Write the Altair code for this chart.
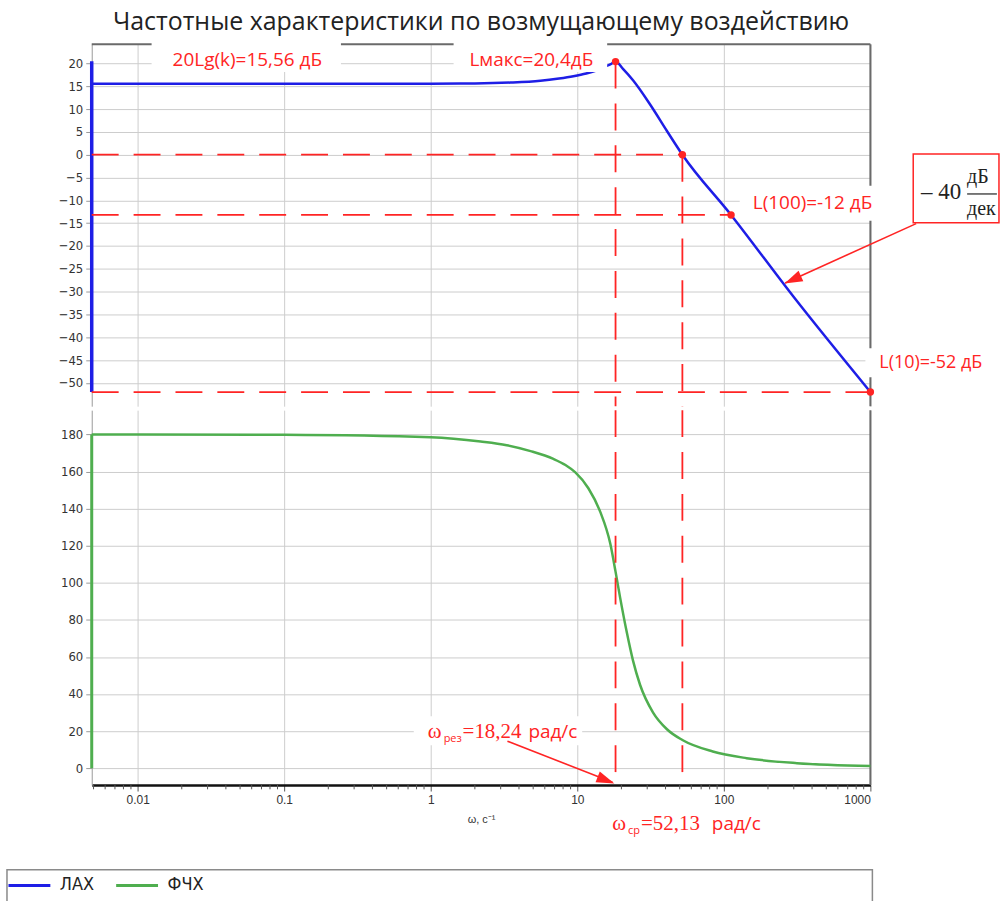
import altair as alt
import pandas as pd

# ---------------- axis ranges / ticks ----------------
W_MIN, W_MAX = 0.00486, 1000.0
L_MIN, L_MAX = -55.1, 24.2
P_MIN, P_MAX = -9.1, 193.1
x_ticks = [0.01, 0.1, 1, 10, 100, 1000]
l_ticks = list(range(-50, 21, 5))
p_ticks = list(range(0, 181, 20))
minor_decades = [0.001, 0.01, 0.1, 1, 10, 100]
minor_mult = [2, 3, 4, 5, 6, 7, 8, 9]

# ---------------- data ----------------
lah_w = [0.00486, 0.01, 0.1, 1, 2, 3.5, 5.6, 7.5, 9.4, 11.5, 13.3, 15.2, 16.8, 18.24, 20.5, 24.0, 31.4, 40.9, 52.13, 112, 300, 1000]
lah_db = [15.56, 15.56, 15.56, 15.56, 15.6, 15.8, 16.2, 16.7, 17.2, 17.8, 18.4, 19.2, 19.8, 20.4, 18.8, 16.3, 11.0, 5.2, 0.0, -13.2, -31.2, -52.0]

fchx_w = [0.00486, 0.01, 0.1, 1, 2.19, 3.3, 4.8, 6.87, 8.3, 9.7, 11.9, 14.3, 16.8, 18.24, 19.6, 21.8, 24.0, 26.8, 32.9, 40.9, 52.13, 84, 143, 315, 1000]
fchx_deg = [180, 180, 179.8, 178.5, 176.2, 174.2, 171.0, 166.8, 163.5, 159.5, 151.0, 138.5, 121.0, 106.0, 92.0, 73.0, 58.0, 45.0, 30.0, 21.0, 15.2, 9.0, 5.4, 2.7, 1.2]

w_res, L_res = 18.24, 20.4
w_cp = 52.13
w_100, L_100 = 112, -13.2
w_end, L_end = 1000, -52.0

series_names = ["ЛАХ", "ФЧХ"]

# ---------------- styles ----------------
BLUE = "#1e1ee6"
GREEN = "#4fae4f"
RED = "#ff2424"
GRID = "#cdcdcd"
FRAME = "#6a6a6a"
SANS = "Open Sans"
SERIF = "Liberation Serif"
COND = "'Liberation Sans Narrow', 'DejaVu Sans Condensed', 'Liberation Sans', sans-serif"
W, H_TOP, H_BOT = 781, 363, 376

xscale = alt.Scale(type="log", domain=[W_MIN, W_MAX], nice=False)
lscale = alt.Scale(domain=[L_MIN, L_MAX], nice=False, zero=False)
pscale = alt.Scale(domain=[P_MIN, P_MAX], nice=False, zero=False)

ax_top_x = alt.Axis(values=x_ticks, labels=False, ticks=False, domain=False, title=None,
                    grid=True, gridColor=GRID)
ax_bot_x = alt.Axis(values=x_ticks, format="~g", title="ω, с⁻¹", grid=True, gridColor=GRID,
                    domainColor="#111111", domainWidth=2.5, tickColor="#555555", tickSize=6,
                    labelPadding=4, labelFontSize=12, titleFontSize=11, titlePadding=8,
                    titleFontWeight="normal", titleColor="#333333", labelColor="#333333",
                    labelFont="Liberation Sans", titleFont="Liberation Sans")
ax_l = alt.Axis(values=l_ticks, title=None, grid=True, gridColor=GRID, domainColor="#9a9a9a",
                tickColor="#9a9a9a", tickSize=6, labelPadding=3, minExtent=40, maxExtent=40,
                labelFontSize=13, labelColor="#333333", labelFont=COND)
ax_p = alt.Axis(values=p_ticks, title=None, grid=True, gridColor=GRID, domainColor="#9a9a9a",
                tickColor="#9a9a9a", tickSize=6, labelPadding=3, minExtent=40, maxExtent=40,
                labelFontSize=13, labelColor="#333333", labelFont=COND)

color_enc = alt.Color("series:N", scale=alt.Scale(domain=series_names, range=[BLUE, GREEN]),
                      legend=alt.Legend(orient="none", legendX=-85, legendY=821, direction="horizontal",
                                        title=None, symbolType="stroke", symbolSize=1764,
                                        symbolStrokeWidth=3, labelFont=COND, labelFontSize=18,
                                        labelColor="#222222", columnPadding=15, labelOffset=8,
                                        padding=0))


def xt(f="w"):
    return alt.X(f"{f}:Q", scale=xscale, axis=ax_top_x)


def xb(f="w"):
    return alt.X(f"{f}:Q", scale=xscale, axis=ax_bot_x)


def yl(f="v"):
    return alt.Y(f"{f}:Q", scale=lscale, axis=ax_l)


def yp(f="v"):
    return alt.Y(f"{f}:Q", scale=pscale, axis=ax_p)


# ================= TOP PANEL (ЛАХ) =================
lah_df = pd.DataFrame({"w": lah_w, "v": lah_db, "series": series_names[0]})

top_border = alt.Chart(pd.DataFrame({"w": [W_MIN], "w2": [W_MAX], "v": [L_MAX]})).mark_rule(
    color=FRAME, strokeWidth=2).encode(x=xt(), x2="w2:Q", y=yl())
right_border_t = alt.Chart(pd.DataFrame({"w": [W_MAX], "v": [L_MIN], "v2": [L_MAX]})).mark_rule(
    color=FRAME, strokeWidth=2).encode(x=xt(), y=yl(), y2="v2:Q")

lah_line = alt.Chart(lah_df).mark_line(strokeWidth=2.5, interpolate="monotone").encode(
    x=xt(), y=yl(), color=color_enc)
lah_edge = alt.Chart(pd.DataFrame({"w": [W_MIN], "v": [L_end], "v2": [20.5]})).mark_rule(
    color=BLUE, strokeWidth=3.5).encode(x=xt(), y=yl(), y2="v2:Q")

dash_h = alt.Chart(pd.DataFrame({"w": [W_MIN, W_MIN, W_MIN], "w2": [w_cp, w_100, w_end],
                                 "v": [0.0, L_100, L_end]})).mark_rule(
    color=RED, strokeWidth=1.8, strokeDash=[27, 15]).encode(x=xt(), x2="w2:Q", y=yl())
dash_v_t = alt.Chart(pd.DataFrame({"w": [w_res, w_cp], "v": [L_res, 0.0], "v2": [L_MIN, L_MIN]})).mark_rule(
    color=RED, strokeWidth=1.8, strokeDash=[27, 15]).encode(x=xt(), y=yl(), y2="v2:Q")

white_t = alt.Chart(pd.DataFrame({
    "w": [0.01245, 1.432, 128.3, 924.6],
    "w2": [0.2439, 15.99, 1150, 7540],
    "v": [18.1, 18.1, -14.46, -48.76],
    "v2": [25.3, 25.3, -6.82, -42.42]})).mark_rect(fill="white", clip=False).encode(
    x=xt(), x2="w2:Q", y=yl(), y2="v2:Q")

txt_t_df = pd.DataFrame({
    "w": [0.056, 4.86, 402.7],
    "v": [20.7, 20.7, -10.53],
    "t": ["20Lg(k)=15,56 дБ", "Lмакс=20,4дБ", "L(100)=-12 дБ"]})
txt_t = alt.Chart(txt_t_df).mark_text(font=SANS, fontSize=19, color=RED, align="center",
                                      baseline="middle", clip=False).encode(x=xt(), y=yl(), text="t:N")
txt_t2 = alt.Chart(pd.DataFrame({"w": [1150], "v": [-45.7], "t": ["L(10)=-52 дБ"]})).mark_text(
    font=SANS, fontSize=18, color=RED, align="left", baseline="middle", clip=False).encode(
    x=xt(), y=yl(), text="t:N")

pts = alt.Chart(pd.DataFrame({"w": [w_res, w_cp, w_100, w_end], "v": [L_res, 0.0, L_100, L_end]})).mark_point(
    filled=True, color=RED, size=55, opacity=1, clip=False).encode(x=xt(), y=yl())

box_e = alt.Chart(pd.DataFrame({"w": [1960], "w2": [7540], "v": [-14.9], "v2": [0.17]})).mark_rect(
    fill="white", stroke=RED, strokeWidth=1.5, clip=False).encode(x=xt(), x2="w2:Q", y=yl(), y2="v2:Q")
slope_num = alt.Chart(pd.DataFrame({"w": [4160], "v": [-8.1], "t": ["– 40"]})).mark_text(
    font=SERIF, fontSize=23, color="#222222", align="right", baseline="middle", clip=False).encode(
    x=xt(), y=yl(), text="t:N")
slope_frac = alt.Chart(pd.DataFrame({"w": [4571, 4571], "v": [-4.85, -12.0], "t": ["дБ", "дек"]})).mark_text(
    font=SERIF, fontSize=20, color="#222222", align="left", baseline="middle", clip=False).encode(
    x=xt(), y=yl(), text="t:N")
slope_bar = alt.Chart(pd.DataFrame({"w": [4571], "w2": [7300], "v": [-8.6]})).mark_rule(
    color="#222222", strokeWidth=1.2, clip=False).encode(x=xt(), x2="w2:Q", y=yl())

arrow1 = alt.Chart(pd.DataFrame({"w": [2052], "v": [-15.1], "w2": [262], "v2": [-28.1]})).mark_rule(
    color=RED, strokeWidth=1.6, clip=False).encode(x=xt(), x2="w2:Q", y=yl(), y2="v2:Q")
head1 = alt.Chart(pd.DataFrame({"w": [259.7], "v": [-28.22]})).mark_point(
    shape="M0,0L0.32,1L-0.32,1Z", filled=True, color=RED, opacity=1, size=1296, angle=245.6,
    clip=False).encode(x=xt(), y=yl())

top = alt.layer(top_border, right_border_t, lah_line, lah_edge, dash_h, dash_v_t, white_t,
                txt_t, txt_t2, pts, box_e, slope_num, slope_frac, slope_bar, arrow1, head1).properties(
    width=W, height=H_TOP,
    title=alt.TitleParams("Частотные характеристики по возмущающему воздействию", font=SANS,
                          fontSize=25, fontWeight="normal", color="#222222", anchor="middle",
                          offset=4))

# ================= BOTTOM PANEL (ФЧХ) =================
fchx_df = pd.DataFrame({"w": fchx_w, "v": fchx_deg, "series": series_names[1]})

right_border_b = alt.Chart(pd.DataFrame({"w": [W_MAX], "v": [P_MIN], "v2": [P_MAX]})).mark_rule(
    color=FRAME, strokeWidth=2).encode(x=xb(), y=yp(), y2="v2:Q")
fchx_line = alt.Chart(fchx_df).mark_line(strokeWidth=2.5, interpolate="monotone").encode(
    x=xb(), y=yp(), color=color_enc)
fchx_edge = alt.Chart(pd.DataFrame({"w": [W_MIN], "v": [0.0], "v2": [180.0]})).mark_rule(
    color=GREEN, strokeWidth=3).encode(x=xb(), y=yp(), y2="v2:Q")

dash_v_b = alt.Chart(pd.DataFrame({"w": [w_res, w_cp], "v": [P_MAX, P_MAX], "v2": [P_MIN, P_MIN]})).mark_rule(
    color=RED, strokeWidth=1.8, strokeDash=[27, 15]).encode(x=xb(), y=yp(), y2="v2:Q")

white_b = alt.Chart(pd.DataFrame({"w": [0.766], "w2": [10.8], "v": [12.42], "v2": [27.97]})).mark_rect(
    fill="white").encode(x=xb(), x2="w2:Q", y=yp(), y2="v2:Q")

minor_df = pd.DataFrame({"w": [m * d for d in minor_decades for m in minor_mult
                               if W_MIN <= m * d <= W_MAX]})
minor_df["v"] = P_MIN
minor_df["v2"] = P_MIN - 2.3
minor = alt.Chart(minor_df).mark_rule(color="#555555", strokeWidth=1, clip=False).encode(
    x=xb(), y=yp(), y2="v2:Q")

# label pieces: omega with subscripts
lab_df = pd.DataFrame({
    "w": [0.953, 0.953, 0.953, 0.953, 17.29, 17.29, 17.29, 17.29],
    "v": [16.2, 16.2, 16.2, 16.2, -33.3, -33.3, -33.3, -33.3],
    "t": ["ω", "рез", "=18,24", "рад/с", "ω", "ср", "=52,13", "рад/с"],
    "kind": ["serif", "sub", "serif", "sans", "serif", "sub", "serif", "sans"],
    "dx": [0, 16, 35, 101, 0, 16, 29, 100],
})


def piece(kind, font, size, dy):
    d = lab_df[lab_df["kind"] == kind]
    layers = []
    for dxv in sorted(set(d["dx"])):
        sub = d[d["dx"] == dxv]
        layers.append(alt.Chart(sub).mark_text(font=font, fontSize=size, color=RED, align="left",
                                               baseline="alphabetic", dx=int(dxv), dy=dy,
                                               clip=False).encode(x=xb(), y=yp(), text="t:N"))
    return layers


lab_layers = piece("serif", SERIF, 21, 0) + piece("sub", SANS, 11, 4) + piece("sans", SANS, 19, 0)

arrow2 = alt.Chart(pd.DataFrame({"w": [3.336], "v": [14.57], "w2": [17.4], "v2": [-7.6]})).mark_rule(
    color=RED, strokeWidth=1.6, clip=False).encode(x=xb(), x2="w2:Q", y=yp(), y2="v2:Q")
head2 = alt.Chart(pd.DataFrame({"w": [17.9], "v": [-8.3]})).mark_point(
    shape="M0,0L0.32,1L-0.32,1Z", filled=True, color=RED, opacity=1, size=1296, angle=111.6,
    clip=False).encode(x=xb(), y=yp())

legend_frame = alt.Chart(pd.DataFrame({"k": [0]})).mark_rect(
    fill="white", fillOpacity=0, stroke="#8a8a8a", strokeWidth=1.5, clip=False).encode(
    x=alt.value(-85), x2=alt.value(783), y=alt.value(461), y2=alt.value(520))

bottom = alt.layer(right_border_b, fchx_line, fchx_edge, dash_v_b, white_b, minor, *lab_layers,
                   arrow2, head2, legend_frame).properties(width=W, height=H_BOT)

chart = alt.vconcat(top, bottom, spacing=0).properties(
    padding={"left": 5, "top": 8, "right": 0, "bottom": 0}
).configure_view(stroke="transparent").configure_axis(labelFont=COND)

chart.save("out.html", embed_options={"renderer": "svg", "actions": False})
